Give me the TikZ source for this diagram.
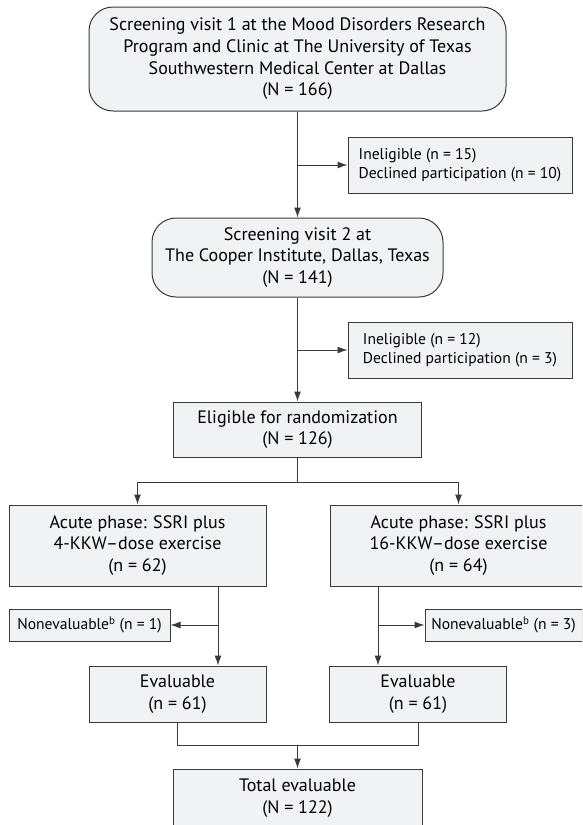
\documentclass[tikz,border=0pt]{standalone}
\usepackage{fontspec}
\setmainfont{PT Sans}
\usetikzlibrary{arrows.meta,positioning,calc}
\definecolor{boxfill}{HTML}{F1F2F4}
\definecolor{boxline}{HTML}{3A3A3A}

\begin{document}
\begin{tikzpicture}[x=1pt, y=-1pt, >={Latex[length=10pt,width=7pt]}]
        \tikzset{
            block/.style={draw=boxline, fill=boxfill, rectangle, line width=1pt, align=center, inner sep=0pt, font=\fontsize{18}{21.7}\selectfont},
            rblock/.style={block, rounded corners=24pt},
            side/.style={block, align=left, font=\fontsize{15.6}{19.3}\selectfont},
            junction/.style={coordinate},
            line/.style={draw=boxline, line width=1pt},
        }
        \clip (0,0) rectangle (582,825);

        % Screening visits
        \node [rblock, minimum width=417pt, minimum height=104pt] (scr1) at (297.5,59)
            {Screening visit 1 at the Mood Disorders Research\\Program and Clinic at The University of Texas\\Southwestern Medical Center at Dallas\\(N = 166)};
        \node [rblock, minimum width=291pt, minimum height=79pt] (scr2) at (297.5,257.5)
            {Screening visit 2 at\\The Cooper Institute, Dallas, Texas\\(N = 141)};

        % Exclusions
        \node [side, minimum width=224pt, minimum height=56pt] (ex1) at (460,165)
            {Ineligible (n = 15)\\Declined participation (n = 10)};
        \node [side, minimum width=224pt, minimum height=56pt] (ex2) at (460,350)
            {Ineligible (n = 12)\\Declined participation (n = 3)};

        % Randomization
        \node [block, minimum width=248pt, minimum height=55pt] (elig) at (297.5,429.5)
            {Eligible for randomization\\(N = 126)};

        % Acute phase arms
        \node [block, minimum width=257pt, minimum height=81pt] (acl) at (137.5,545.5)
            {Acute phase: SSRI plus\\4-KKW--dose exercise\\(n = 62)};
        \node [block, minimum width=257pt, minimum height=81pt] (acr) at (458.5,545.5)
            {Acute phase: SSRI plus\\16-KKW--dose exercise\\(n = 64)};

        % Nonevaluable
        \node [side, minimum width=161pt, minimum height=32pt] (nel) at (89.5,625)
            {Nonevaluable\textsuperscript{b} (n = 1)};
        \node [side, minimum width=157pt, minimum height=32pt] (ner) at (503.5,625)
            {Nonevaluable\textsuperscript{b} (n = 3)};

        % Evaluable
        \node [block, minimum width=177pt, minimum height=56pt] (evl) at (177.5,694)
            {Evaluable\\(n = 61)};
        \node [block, minimum width=177pt, minimum height=56pt] (evr) at (418,694)
            {Evaluable\\(n = 61)};
        \node [block, minimum width=249pt, minimum height=58pt] (tot) at (297.5,798)
            {Total evaluable\\(N = 122)};

        % Junctions
        \node [junction] (split) at (297.5,482) {};
        \node [junction] (lx) at (218,0) {};
        \node [junction] (rx) at (378,0) {};
        \node [junction] (merge) at (297.5,745) {};

        % Connections
        \draw [line, ->] (scr1.south) -- (scr2.north);
        \draw [line, ->] (scr1.south |- ex1.west) -- (ex1.west);
        \draw [line, ->] (scr2.south) -- (elig.north);
        \draw [line, ->] (scr2.south |- ex2.west) -- (ex2.west);
        \draw [line] (elig.south) -- (split);
        \draw [line, ->] (split) -| (acl.north);
        \draw [line, ->] (split) -| (acr.north);
        \draw [line, ->] (acl.south -| lx) -- (evl.north -| lx);
        \draw [line, ->] (lx |- nel.east) -- (nel.east);
        \draw [line, ->] (acr.south -| rx) -- (evr.north -| rx);
        \draw [line, ->] (rx |- ner.west) -- (ner.west);
        \draw [line] (evl.south) |- (evr.south |- merge) -- (evr.south);
        \draw [line, ->] (merge) -- (tot.north);
\end{tikzpicture}
\end{document}
